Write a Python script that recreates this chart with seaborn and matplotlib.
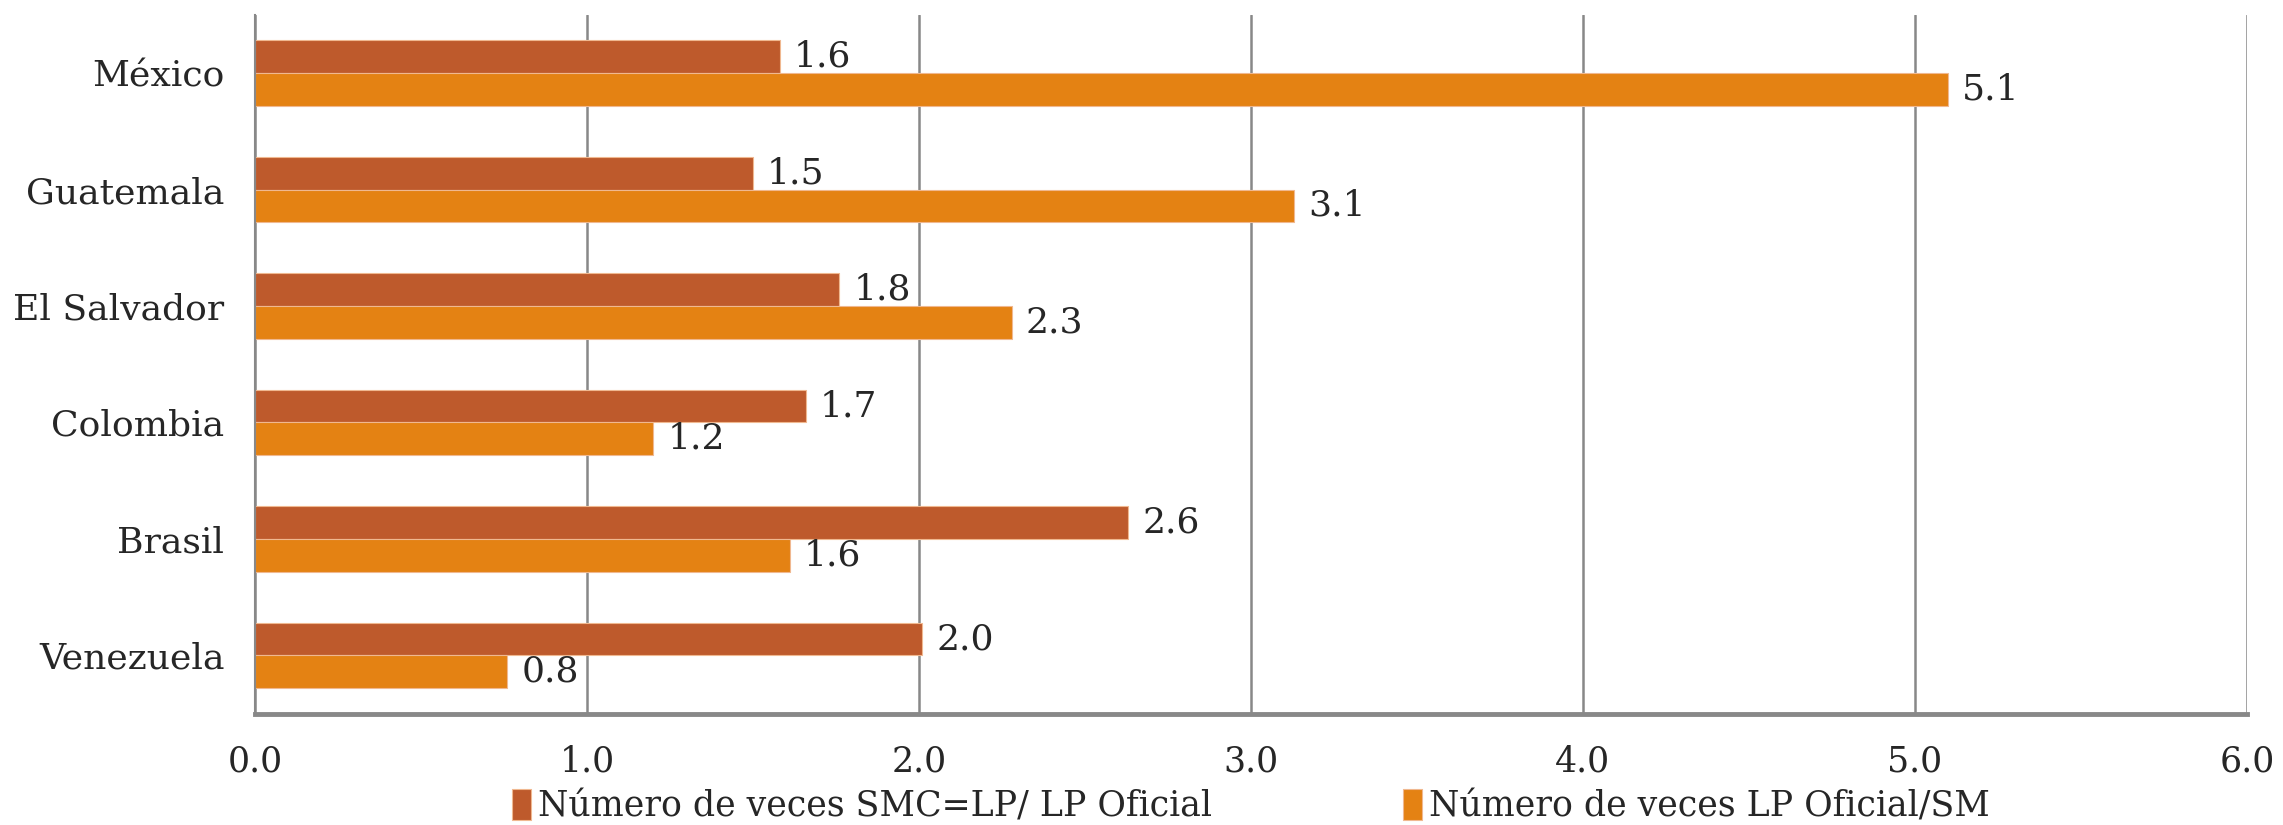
import numpy as np
import pandas as pd
import seaborn as sns
import matplotlib.pyplot as plt
from matplotlib.ticker import FixedLocator

countries = ['México', 'Guatemala', 'El Salvador', 'Colombia', 'Brasil', 'Venezuela']
smc_lp = [1.58, 1.50, 1.76, 1.66, 2.63, 2.01]
lp_sm = [5.10, 3.13, 2.28, 1.20, 1.61, 0.76]
series = ['Número de veces SMC=LP/ LP Oficial', 'Número de veces LP Oficial/SM']
colors = ['#BE5A2C', '#E48213']

df = pd.DataFrame({
    'pais': countries * 2,
    'valor': smc_lp + lp_sm,
    'serie': [series[0]] * len(countries) + [series[1]] * len(countries),
})

sns.set_style('white')
plt.rcParams['font.family'] = ['DejaVu Serif']

fig = plt.figure(figsize=(22.83, 8.25), dpi=100)
ax = fig.add_axes([0.1117, 0.135, 0.8725, 0.847])

sns.barplot(data=df, y='pais', x='valor', hue='serie', orient='h', order=countries,
            hue_order=series, palette=colors, width=0.56, ax=ax,
            edgecolor='#F0B890', linewidth=0.8, errorbar=None, saturation=1)

ax.set_xlim(0, 6)
ax.set_ylim(5.5, -0.5)
ax.set_xticks(np.arange(0, 6.01, 1.0))
ax.set_xticklabels([f'{v:.1f}' for v in np.arange(0, 6.01, 1.0)], fontsize=25)
ax.tick_params(axis='x', direction='out', length=10, width=1.5, color='#888888', pad=12)
ax.tick_params(axis='y', which='major', length=0, labelsize=26, pad=22)
ax.yaxis.set_minor_locator(FixedLocator(np.arange(-0.5, 5.6, 1.0)))
ax.tick_params(axis='y', which='minor', direction='out', length=10, width=1.5, color='#888888')
ax.grid(axis='x', color='#888888', linewidth=1.8)
ax.set_axisbelow(True)
ax.set_xlabel('')
ax.set_ylabel('')

for side in ['top', 'right']:
    ax.spines[side].set_visible(False)
ax.spines['left'].set_color('#888888')
ax.spines['left'].set_linewidth(1.5)
ax.spines['bottom'].set_color('#888888')
ax.spines['bottom'].set_linewidth(3.5)

for cont in ax.containers:
    ax.bar_label(cont, fmt='%.1f', padding=10, fontsize=26)

handles, labels = ax.get_legend_handles_labels()
ax.legend(handles, labels, loc='upper center', bbox_to_anchor=(0.5, -0.088), ncol=2,
          frameon=False, fontsize=25, handlelength=0.55, handleheight=1.0,
          handletextpad=0.2, columnspacing=5.5, borderaxespad=0)

fig.savefig('out.png', dpi=100)
